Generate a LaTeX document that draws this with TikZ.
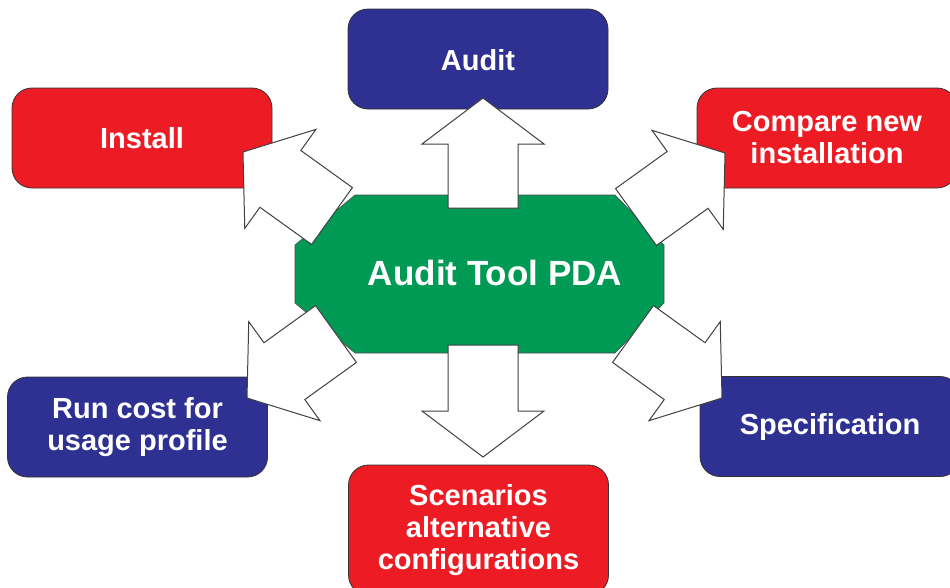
\documentclass[tikz,border=0pt]{standalone}
\usepackage{fontspec}
\setmainfont{Liberation Sans}
\usetikzlibrary{calc}
\definecolor{pdablue}{RGB}{46,49,146}
\definecolor{pdared}{RGB}{237,28,36}
\definecolor{pdagreen}{RGB}{0,154,84}

\begin{document}
\begin{tikzpicture}[x=1pt, y=-1pt,
  box/.style={draw=black!80, line width=0.8pt, rounded corners=20pt,
    minimum width=260pt, minimum height=100pt, text=white, align=center,
    font=\bfseries\fontsize{29}{32}\selectfont},
  bluebox/.style={box, fill=pdablue},
  redbox/.style={box, fill=pdared},
  blockarr/.style={draw=black!75, fill=white, line width=1pt, line join=miter,
    to path={let \p1=(\tikztostart), \p2=(\tikztotarget),
      \n1={atan2(\y2-\y1,\x2-\x1)}, \n2={veclen(\x2-\x1,\y2-\y1)-46} in
      ($(\p1)+(\n1+90:35pt)$) -- ++(\n1:\n2) -- ++(\n1+90:26pt) -- (\p2)
      -- ($(\p1)+(\n1:\n2)+(\n1-90:61pt)$) -- ++(\n1+90:26pt)
      -- ($(\p1)+(\n1-90:35pt)$) -- cycle}}]
  \useasboundingbox (0,0) rectangle (950,587);
  \clip (0,0) rectangle (950,587);
  % Centre octagon
  \filldraw[fill=pdagreen, draw=black!70, line width=0.6pt]
    (355,195) -- (615,195) -- (664,245) -- (664,303) -- (615,353)
    -- (355,353) -- (295,303) -- (295,245) -- cycle;
  \node[text=white, font=\bfseries\fontsize{35}{40}\selectfont] (pda) at (495,273) {Audit Tool PDA};
  % Boxes
  \node[bluebox, text height=24pt] (audit) at (478,59) {Audit};
  \node[redbox] (install) at (142,138) {Install};
  \node[redbox] (compare) at (827,138) {Compare new\\installation};
  \node[bluebox] (runcost) at (137.5,427) {Run cost for\\usage profile};
  \node[bluebox] (spec) at (830,426.5) {Specification};
  \node[redbox, minimum height=130pt] (scen) at (478.5,530) {Scenarios\\alternative\\configurations};
  % Arrow ends
  \coordinate (b-audit) at (483,208);   \coordinate (t-audit) at (483,98);
  \coordinate (b-scen) at (483,345);    \coordinate (t-scen) at (483,457);
  \coordinate (b-install) at (332,216); \coordinate (t-install) at (243,152);
  \coordinate (b-compare) at (636,217); \coordinate (t-compare) at (725,153);
  \coordinate (b-runcost) at (336,334); \coordinate (t-runcost) at (247,398);
  \coordinate (b-spec) at (633,334);    \coordinate (t-spec) at (722,398);
  % Block arrows
  \draw[blockarr] (b-audit) to (t-audit);
  \draw[blockarr] (b-scen) to (t-scen);
  \draw[blockarr] (b-install) to (t-install);
  \draw[blockarr] (b-compare) to (t-compare);
  \draw[blockarr] (b-runcost) to (t-runcost);
  \draw[blockarr] (b-spec) to (t-spec);
\end{tikzpicture}
\end{document}
